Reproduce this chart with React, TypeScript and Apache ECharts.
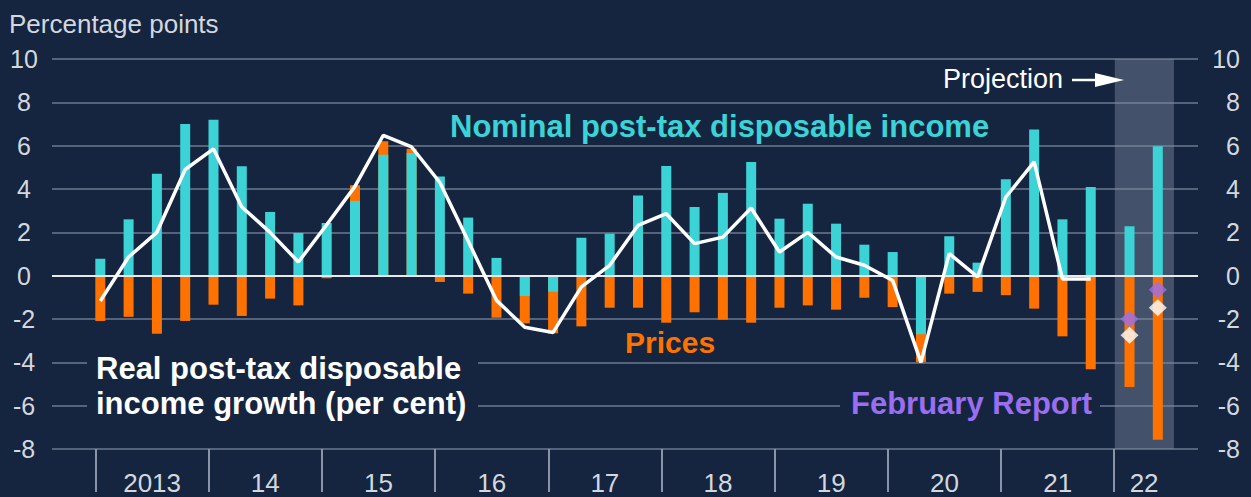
import React, { useEffect, useRef } from "react";
import * as echarts from "echarts";

// ---- Data (quarterly, 2013 Q1 – 2022 Q2) ----
const years = ["2013", "14", "15", "16", "17", "18", "19", "20", "21", "22"];
const quarters = [
  "2013Q1", "2013Q2", "2013Q3", "2013Q4",
  "2014Q1", "2014Q2", "2014Q3", "2014Q4",
  "2015Q1", "2015Q2", "2015Q3", "2015Q4",
  "2016Q1", "2016Q2", "2016Q3", "2016Q4",
  "2017Q1", "2017Q2", "2017Q3", "2017Q4",
  "2018Q1", "2018Q2", "2018Q3", "2018Q4",
  "2019Q1", "2019Q2", "2019Q3", "2019Q4",
  "2020Q1", "2020Q2", "2020Q3", "2020Q4",
  "2021Q1", "2021Q2", "2021Q3", "2021Q4",
  "2022Q1", "2022Q2",
];
// Nominal post-tax disposable income contribution (pp)
const nominal = [
  0.78, 2.6, 4.7, 7.0,
  7.2, 5.05, 2.94, 1.97,
  2.43, 3.45, 5.58, 5.66,
  4.58, 2.68, 0.82, -0.94,
  -0.74, 1.75, 1.94, 3.7,
  5.06, 3.17, 3.82, 5.25,
  2.63, 3.32, 2.4, 1.43,
  1.09, -2.7, 1.82, 0.6,
  4.45, 6.75, 2.6, 4.09,
  2.28, 5.97,
];
// Prices contribution (pp)
const prices = [
  -2.09, -1.9, -2.68, -2.09,
  -1.34, -1.86, -1.06, -1.37,
  -0.12, 0.72, 0.62, 0.2,
  -0.29, -0.83, -1.94, -1.26,
  -1.92, -2.34, -1.48, -1.48,
  -2.17, -1.69, -2.03, -2.17,
  -1.48, -1.37, -1.57, -1.02,
  -1.45, -1.3, -0.83, -0.75,
  -0.9, -1.52, -2.8, -4.32,
  -5.14, -7.57,
];
// Real post-tax disposable income growth (per cent), outturns to 2021 Q4
const real = [
  -1.17, 0.86, 2.0, 4.9,
  5.85, 3.17, 2.0, 0.63,
  2.35, 4.12, 6.48, 5.94,
  4.3, 1.6, -1.14, -2.38,
  -2.62, -0.52, 0.48, 2.32,
  2.86, 1.48, 1.78, 3.12,
  1.09, 2.0, 0.86, 0.48,
  -0.22, -4.0, 1.02, -0.06,
  3.63, 5.25, -0.15, -0.15,
];
// Projections for 2022 Q1, Q2
const projection = [-2.75, -1.48];
const februaryReport = [-2.0, -0.65];
const yMin = -8;
const yMax = 10;
const yStep = 2;

// ---- Layout / style constants ----
const W = 1251;
const H = 497;
const BG = "#152540";
const GRID = "#55647b";
const TICK_COL = "#8a94a6";
const LABEL = "#d3d7de";
const CYAN = "#3cd3d7";
const ORANGE = "#ff7200";
const PURPLE = "#9a6ef0";
const SHADE = "rgba(125,138,158,0.45)";
const FONT = "Arial, 'Liberation Sans', Helvetica, sans-serif";

const XMIN = -1.707;
const XMAX = 38.79;
const PROJ_INDEX = 36;
const PROJ_SHIFT = 0.37;
const YEAR_OFFSET = -0.17;
const PROJ_END = 37.94;

const xPos = (i: number) => (i >= PROJ_INDEX ? i + PROJ_SHIFT : i);
const dividers = years.map((_, k) => 4 * k + YEAR_OFFSET);
const yearCenters = years.map((_, k) =>
  k < years.length - 1 ? 4 * k + 2 + YEAR_OFFSET : (dividers[k] + PROJ_END) / 2
);
// stacked top of the prices bar (same-sign stacking on the nominal bar)
const pricesTop = prices.map((p, i) => {
  const n = nominal[i];
  return (p >= 0) === (n >= 0) ? n + p : p;
});

export default function App() {
  const ref = useRef<HTMLDivElement>(null);

  useEffect(() => {
    if (!ref.current) return;
    const chart = echarts.init(ref.current, undefined, { renderer: "svg" });

    const labelFor = (v: number) => {
      for (let j = 0; j < yearCenters.length; j++) {
        if (Math.abs(yearCenters[j] - v) < 1e-6) return years[j];
      }
      return "";
    };

    const option: any = {
      animation: false,
      backgroundColor: BG,
      textStyle: { fontFamily: FONT },
      grid: { left: 52, right: 53, top: 59, bottom: 48, containLabel: false },
      xAxis: {
        type: "value",
        min: XMIN,
        max: XMAX,
        splitLine: { show: false },
        axisLine: { show: false, onZero: false },
        axisTick: {
          show: true,
          customValues: dividers,
          length: 43,
          lineStyle: { color: TICK_COL, width: 2 },
        },
        axisLabel: {
          show: true,
          customValues: yearCenters,
          formatter: (v: number) => labelFor(v),
          color: LABEL,
          fontSize: 26,
          fontFamily: FONT,
          margin: 21,
        },
      },
      yAxis: [
        {
          type: "value",
          min: yMin,
          max: yMax,
          interval: yStep,
          position: "left",
          splitLine: { show: true, lineStyle: { color: GRID, width: 2 } },
          axisLine: { show: false },
          axisTick: { show: false },
          axisLabel: { color: LABEL, fontSize: 25, align: "center", margin: 28, fontFamily: FONT },
        },
        {
          type: "value",
          min: yMin,
          max: yMax,
          interval: yStep,
          position: "right",
          splitLine: { show: false },
          axisLine: { show: false },
          axisTick: { show: false },
          axisLabel: { color: LABEL, fontSize: 25, align: "right", margin: 42, fontFamily: FONT },
        },
      ],
      series: [
        {
          name: "shade",
          type: "line",
          data: [],
          z: 1,
          silent: true,
          markArea: {
            silent: true,
            itemStyle: { color: SHADE },
            data: [[{ xAxis: dividers[years.length - 1] + 0.02 }, { xAxis: PROJ_END }]],
          },
        },
        {
          name: "Prices",
          type: "bar",
          barWidth: 10,
          barGap: "-100%",
          z: 2,
          itemStyle: { color: ORANGE },
          data: pricesTop.map((v, i) => [xPos(i), v]),
        },
        {
          name: "Nominal post-tax disposable income",
          type: "bar",
          barWidth: 10,
          barGap: "-100%",
          z: 3,
          itemStyle: { color: CYAN },
          data: nominal.map((v, i) => [xPos(i), v]),
        },
        {
          name: "zero",
          type: "line",
          data: [],
          z: 4,
          silent: true,
          markLine: {
            silent: true,
            symbol: ["none", "none"],
            label: { show: false },
            lineStyle: { color: "#e9e9e9", width: 2, type: "solid" },
            data: [{ yAxis: 0 }],
          },
        },
        {
          name: "Real post-tax disposable income growth",
          type: "line",
          z: 5,
          showSymbol: false,
          lineStyle: { color: "#ffffff", width: 3.5 },
          data: real.map((v, i) => [xPos(i), v]),
        },
        {
          name: "February Report",
          type: "scatter",
          z: 6,
          symbol: "diamond",
          symbolSize: [18, 17],
          itemStyle: { color: PURPLE },
          data: februaryReport.map((v, i) => [xPos(PROJ_INDEX + i), v]),
        },
        {
          name: "Projection",
          type: "scatter",
          z: 6,
          symbol: "diamond",
          symbolSize: [18, 17],
          itemStyle: { color: "#ffffff" },
          data: projection.map((v, i) => [xPos(PROJ_INDEX + i), v]),
        },
      ],
      graphic: [
        {
          type: "text",
          x: 9,
          y: 24,
          z: 100,
          style: {
            text: "Percentage points",
            fill: LABEL,
            font: `26px ${FONT}`,
            verticalAlign: "middle",
          },
        },
        {
          type: "text",
          x: 450,
          y: 126,
          z: 100,
          style: {
            text: "Nominal post-tax disposable income",
            fill: CYAN,
            font: `bold 31px ${FONT}`,
            verticalAlign: "middle",
          },
        },
        {
          type: "text",
          x: 625,
          y: 342,
          z: 100,
          style: {
            text: "Prices",
            fill: ORANGE,
            font: `bold 30px ${FONT}`,
            verticalAlign: "middle",
          },
        },
        {
          type: "rect",
          z: 90,
          shape: { x: 87, y: 350, width: 391, height: 70 },
          style: { fill: BG },
        },
        {
          type: "text",
          x: 96,
          y: 386,
          z: 100,
          style: {
            text: "Real post-tax disposable\nincome growth (per cent)",
            fill: "#ffffff",
            font: `bold 31px ${FONT}`,
            lineHeight: 35,
            verticalAlign: "middle",
          },
        },
        {
          type: "rect",
          z: 90,
          shape: { x: 840, y: 392, width: 260, height: 28 },
          style: { fill: BG },
        },
        {
          type: "text",
          x: 851,
          y: 403,
          z: 100,
          style: {
            text: "February Report",
            fill: PURPLE,
            font: `bold 31px ${FONT}`,
            verticalAlign: "middle",
          },
        },
        {
          type: "text",
          x: 943,
          y: 79,
          z: 100,
          style: {
            text: "Projection",
            fill: "#ffffff",
            font: `27px ${FONT}`,
            verticalAlign: "middle",
          },
        },
        {
          type: "line",
          z: 100,
          shape: { x1: 1072, y1: 80, x2: 1100, y2: 80 },
          style: { stroke: "#ffffff", lineWidth: 2.5 },
        },
        {
          type: "polygon",
          z: 100,
          shape: { points: [[1095, 73], [1124, 80], [1095, 87]] },
          style: { fill: "#ffffff" },
        },
      ],
    };

    chart.setOption(option);
    return () => chart.dispose();
  }, []);

  return (
    <div
      ref={ref}
      style={{ position: "fixed", left: 0, top: 0, width: W, height: H }}
    />
  );
}
